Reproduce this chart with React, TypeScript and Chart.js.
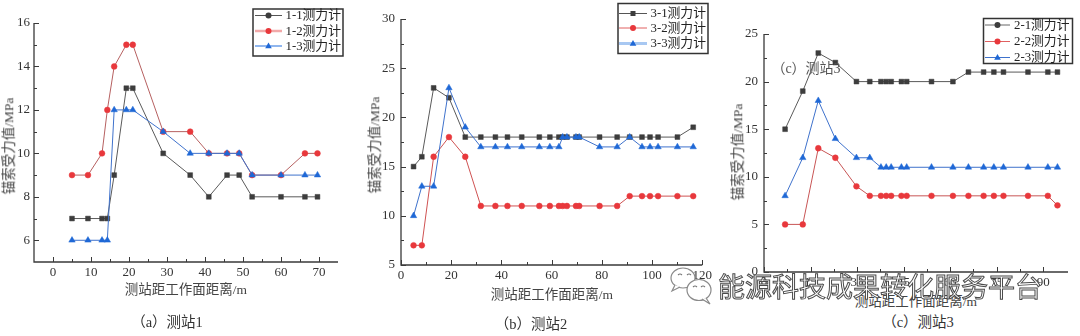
import React, { useEffect, useRef } from 'react';
import { Chart, registerables } from 'chart.js';

Chart.register(...registerables);

// ---------- Station 1 ----------
const distA = [5, 9.2, 12.9, 14.3, 16.1, 19.3, 21, 29, 36.1, 41, 45.8, 49, 52.4, 60, 66.3, 69.6];
const gauge11 = [7, 7, 7, 7, 9, 13, 13, 10, 9, 8, 9, 9, 8, 8, 8, 8];
const gauge12 = [9, 9, 10, 12, 14, 15, 15, 11, 11, 10, 10, 10, 9, 9, 10, 10];
const gauge13 = [6, 6, 6, 6, 12, 12, 12, 11, 10, 10, 10, 10, 9, 9, 9, 9];
const xMajorA = [0, 10, 20, 30, 40, 50, 60, 70];
const xMinorA = [5, 15, 25, 35, 45, 55, 65];
const yMajorA = [6, 8, 10, 12, 14, 16];
const yMinorA = [7, 9, 11, 13, 15];

// ---------- Station 2 ----------
const distB = [5, 8.3, 13, 19.1, 25.6, 31.8, 37.6, 42.4, 48.1, 55.1, 59.3, 62.9, 64.4, 66.1, 69.7, 71, 79.1, 86.1, 91.1, 96, 99.2, 102.4, 110.1, 116.4];
const gauge31 = [15, 16, 23, 22, 18, 18, 18, 18, 18, 18, 18, 18, 18, 18, 18, 18, 18, 18, 18, 18, 18, 18, 18, 19];
const gauge32 = [7, 7, 16, 18, 16, 11, 11, 11, 11, 11, 11, 11, 11, 11, 11, 11, 11, 11, 12, 12, 12, 12, 12, 12];
const gauge33 = [10, 13, 13, 23, 19, 17, 17, 17, 17, 17, 17, 17, 18, 18, 18, 18, 17, 17, 18, 17, 17, 17, 17, 17];
const xMajorB = [0, 20, 40, 60, 80, 100, 120];
const xMinorB = [10, 30, 50, 70, 90, 110];
const yMajorB = [5, 10, 15, 20, 25, 30];
const yMinorB = [7.5, 12.5, 17.5, 22.5, 27.5];

// ---------- Station 3 ----------
const distC = [6.8, 12.5, 17.5, 23, 29.8, 34.1, 37.7, 39.4, 41, 44.3, 46, 54, 60.9, 65.9, 70.8, 74.1, 77.2, 85.1, 91.5, 94.6];
const gauge21 = [15, 19, 23, 22, 20, 20, 20, 20, 20, 20, 20, 20, 20, 21, 21, 21, 21, 21, 21, 21];
const gauge22 = [5, 5, 13, 12, 9, 8, 8, 8, 8, 8, 8, 8, 8, 8, 8, 8, 8, 8, 8, 7];
const gauge23 = [8, 12, 18, 14, 12, 12, 11, 11, 11, 11, 11, 11, 11, 11, 11, 11, 11, 11, 11, 11];
const xMajorC = [0, 15, 30, 45, 60, 75, 90];
const xMinorC = [7.5, 22.5, 37.5, 52.5, 67.5, 82.5];
const yMajorC = [0, 5, 10, 15, 20, 25];
const yMinorC = [2.5, 7.5, 12.5, 17.5, 22.5];

type Marker = 'rect' | 'circle' | 'triangle';

interface SeriesStyle {
  label: string;
  values: number[];
  marker: Marker;
  radius: number;
  markerColor: string;
  lineColor: string;
  legendMarker: Marker;
  legendLine: string;
  legendLineWidth: number;
}

interface PanelSpec {
  left: number;
  width: number;
  height: number;
  yWidth: number;
  xHeight: number;
  padTop: number;
  padRight: number;
  dist: number[];
  series: SeriesStyle[];
  xMin: number;
  xMax: number;
  yMin: number;
  yMax: number;
  xMajor: number[];
  xMinor: number[];
  yMajor: number[];
  yMinor: number[];
  yLabelPad: number;
  xLabelPad: number;
  legend: { x: number; y: number; w: number; h: number; rows: number[]; lineX0: number; lineX1: number; textX: number };
}

const GRAY = '#3d3d3d';
const RED = '#e8383c';
const BLUE = '#1f68d6';
const AXIS = '#3a3a3a';
const TICK_FONT = '"Liberation Serif", "Times New Roman", serif';
const CJK_FONT = '"Liberation Serif", "Noto Sans CJK SC", serif';

const panelA: PanelSpec = {
  left: 0, width: 350, height: 290, yWidth: 34, xHeight: 28, padTop: 23, padRight: 12,
  dist: distA,
  series: [
    { label: '1-1测力计', values: gauge11, marker: 'rect', radius: 3.4, markerColor: GRAY, lineColor: '#5a5a5a', legendMarker: 'circle', legendLine: '#555', legendLineWidth: 1 },
    { label: '1-2测力计', values: gauge12, marker: 'circle', radius: 2.9, markerColor: RED, lineColor: '#b66060', legendMarker: 'circle', legendLine: '#f2a9a9', legendLineWidth: 2.5 },
    { label: '1-3测力计', values: gauge13, marker: 'triangle', radius: 3.7, markerColor: BLUE, lineColor: '#3f72cc', legendMarker: 'triangle', legendLine: '#90b6ee', legendLineWidth: 2 },
  ],
  xMin: -5, xMax: 75, yMin: 5, yMax: 16,
  xMajor: xMajorA, xMinor: xMinorA, yMajor: yMajorA, yMinor: yMinorA,
  yLabelPad: 4, xLabelPad: 3,
  legend: { x: 253, y: 9, w: 90, h: 47, rows: [15.5, 31, 46], lineX0: 255, lineX1: 282, textX: 285.5 },
};

const panelB: PanelSpec = {
  left: 360, width: 355, height: 290, yWidth: 41, xHeight: 25, padTop: 19, padRight: 12,
  dist: distB,
  series: [
    { label: '3-1测力计', values: gauge31, marker: 'rect', radius: 3.4, markerColor: GRAY, lineColor: '#5a5a5a', legendMarker: 'rect', legendLine: '#555', legendLineWidth: 1 },
    { label: '3-2测力计', values: gauge32, marker: 'circle', radius: 2.9, markerColor: RED, lineColor: '#cf5252', legendMarker: 'circle', legendLine: '#e06060', legendLineWidth: 1 },
    { label: '3-3测力计', values: gauge33, marker: 'triangle', radius: 3.7, markerColor: BLUE, lineColor: '#3f72cc', legendMarker: 'triangle', legendLine: '#a8c8f2', legendLineWidth: 3 },
  ],
  xMin: 0, xMax: 120, yMin: 5, yMax: 30,
  xMajor: xMajorB, xMinor: xMinorB, yMajor: yMajorB, yMinor: yMinorB,
  yLabelPad: 6, xLabelPad: 3,
  legend: { x: 258, y: 3.5, w: 90, h: 50, rows: [13.5, 28, 43.5], lineX0: 259, lineX1: 287, textX: 290.5 },
};

const panelC: PanelSpec = {
  left: 720, width: 360, height: 290, yWidth: 44, xHeight: 18, padTop: 34, padRight: 12,
  dist: distC,
  series: [
    { label: '2-1测力计', values: gauge21, marker: 'rect', radius: 3.4, markerColor: GRAY, lineColor: '#5a5a5a', legendMarker: 'circle', legendLine: '#666', legendLineWidth: 1 },
    { label: '2-2测力计', values: gauge22, marker: 'circle', radius: 2.9, markerColor: RED, lineColor: '#c85555', legendMarker: 'circle', legendLine: '#e06060', legendLineWidth: 1 },
    { label: '2-3测力计', values: gauge23, marker: 'triangle', radius: 3.7, markerColor: BLUE, lineColor: '#3f72cc', legendMarker: 'triangle', legendLine: '#3f72cc', legendLineWidth: 1 },
  ],
  xMin: 0, xMax: 98, yMin: 0, yMax: 25,
  xMajor: xMajorC, xMinor: xMinorC, yMajor: yMajorC, yMinor: yMinorC,
  yLabelPad: 6, xLabelPad: 3,
  legend: { x: 263.5, y: 18.5, w: 89, h: 45, rows: [25, 41.5, 57.5], lineX0: 265, lineX1: 290, textX: 294 },
};

function drawMarker(ctx: CanvasRenderingContext2D, m: Marker, x: number, y: number, color: string) {
  ctx.fillStyle = color;
  ctx.beginPath();
  if (m === 'rect') {
    ctx.rect(x - 2.5, y - 2.5, 5, 5);
  } else if (m === 'circle') {
    ctx.arc(x, y, 3, 0, Math.PI * 2);
  } else {
    ctx.moveTo(x, y - 3.6);
    ctx.lineTo(x + 3.3, y + 2.2);
    ctx.lineTo(x - 3.3, y + 2.2);
    ctx.closePath();
  }
  ctx.fill();
}

function framePlugin(p: PanelSpec) {
  return {
    id: 'originFrame',
    afterDraw(chart: any) {
      const { ctx, chartArea: a } = chart;
      const xs = chart.scales.x;
      const ys = chart.scales.y;
      ctx.save();
      // axis lines (left and bottom only)
      ctx.strokeStyle = AXIS;
      ctx.lineWidth = 1.3;
      ctx.beginPath();
      ctx.moveTo(a.left, a.top);
      ctx.lineTo(a.left, a.bottom);
      ctx.lineTo(a.right, a.bottom);
      ctx.stroke();
      // inward tick marks
      ctx.lineWidth = 1;
      ctx.beginPath();
      const xt = (v: number, len: number) => {
        const px = Math.round(xs.getPixelForValue(v)) + 0.5;
        ctx.moveTo(px, a.bottom);
        ctx.lineTo(px, a.bottom - len);
      };
      const yt = (v: number, len: number) => {
        const py = Math.round(ys.getPixelForValue(v)) + 0.5;
        ctx.moveTo(a.left, py);
        ctx.lineTo(a.left + len, py);
      };
      p.xMajor.forEach((v) => xt(v, 5));
      p.xMinor.forEach((v) => xt(v, 3));
      p.yMajor.forEach((v) => yt(v, 5));
      p.yMinor.forEach((v) => yt(v, 3));
      ctx.stroke();
      // legend box
      const L = p.legend;
      ctx.fillStyle = '#fff';
      ctx.fillRect(L.x, L.y, L.w, L.h);
      ctx.lineWidth = 1.5;
      ctx.strokeStyle = '#333';
      ctx.strokeRect(L.x, L.y, L.w, L.h);
      p.series.forEach((s, i) => {
        const ry = L.rows[i];
        ctx.strokeStyle = s.legendLine;
        ctx.lineWidth = s.legendLineWidth;
        ctx.beginPath();
        ctx.moveTo(L.lineX0, ry);
        ctx.lineTo(L.lineX1, ry);
        ctx.stroke();
        drawMarker(ctx, s.legendMarker, (L.lineX0 + L.lineX1) / 2, ry, s.markerColor);
        ctx.fillStyle = '#222';
        ctx.font = '12.8px ' + CJK_FONT;
        ctx.textBaseline = 'middle';
        ctx.textAlign = 'left';
        ctx.fillText(s.label, L.textX, ry + 0.5);
      });
      ctx.restore();
    },
  };
}

function Panel({ p }: { p: PanelSpec }) {
  const ref = useRef<HTMLCanvasElement>(null);
  useEffect(() => {
    const n = p.series.length;
    const chart = new Chart(ref.current as HTMLCanvasElement, {
      type: 'line',
      data: {
        datasets: p.series.map((s, i) => ({
          label: s.label,
          data: p.dist.map((d, k) => ({ x: d, y: s.values[k] })),
          borderColor: s.lineColor,
          borderWidth: 1,
          pointStyle: s.marker,
          pointRadius: s.radius,
          pointBackgroundColor: s.markerColor,
          pointBorderColor: s.markerColor,
          pointBorderWidth: 0.5,
          tension: 0,
          order: n - 1 - i,
          clip: false,
        })),
      },
      options: {
        responsive: false,
        animation: false,
        layout: { padding: { left: 0, top: p.padTop, right: p.padRight, bottom: 0 } },
        plugins: { legend: { display: false }, tooltip: { enabled: false } },
        scales: {
          x: {
            type: 'linear',
            min: p.xMin,
            max: p.xMax,
            grid: { display: false, drawTicks: false, tickLength: 0 },
            border: { display: false },
            afterBuildTicks: (sc: any) => {
              sc.ticks = p.xMajor.map((v) => ({ value: v }));
            },
            afterFit: (sc: any) => {
              sc.height = p.xHeight;
            },
            ticks: {
              autoSkip: false,
              maxRotation: 0,
              padding: p.xLabelPad,
              color: '#333',
              font: { family: TICK_FONT, size: 13 },
              callback: (v: any) => String(v),
            },
          },
          y: {
            type: 'linear',
            min: p.yMin,
            max: p.yMax,
            grid: { display: false, drawTicks: false, tickLength: 0 },
            border: { display: false },
            afterBuildTicks: (sc: any) => {
              sc.ticks = p.yMajor.map((v) => ({ value: v }));
            },
            afterFit: (sc: any) => {
              sc.width = p.yWidth;
            },
            ticks: {
              autoSkip: false,
              padding: p.yLabelPad,
              color: '#333',
              font: { family: TICK_FONT, size: 13 },
              callback: (v: any) => String(v),
            },
          },
        },
      } as any,
      plugins: [framePlugin(p)],
    });
    return () => chart.destroy();
  }, [p]);
  return (
    <canvas
      ref={ref}
      width={p.width}
      height={p.height}
      style={{ position: 'absolute', left: p.left, top: 0, width: p.width, height: p.height }}
    />
  );
}

function Label({ text, x, y, size, rotate, color }: { text: string; x: number; y: number; size: number; rotate?: boolean; color?: string }) {
  return (
    <div
      style={{
        position: 'absolute',
        left: x,
        top: y,
        transform: `translate(-50%, -50%)${rotate ? ' rotate(-90deg)' : ''}`,
        whiteSpace: 'nowrap',
        fontFamily: CJK_FONT,
        fontSize: size,
        lineHeight: 1,
        color: color || '#444',
      }}
    >
      {text}
    </div>
  );
}

function WeChatBadge() {
  return (
    <svg width={50} height={42} style={{ position: 'absolute', left: 668, top: 265 }} viewBox="0 0 50 42">
      <ellipse cx={15} cy={13} rx={12} ry={10} fill="#fff" stroke="#8a8a8a" strokeWidth={1.2} />
      <path d="M7 20 L4 26 L12 22" fill="#fff" stroke="#8a8a8a" strokeWidth={1.2} />
      <path d="M10 10 q2 -2 4 0" fill="none" stroke="#777" strokeWidth={1.1} />
      <path d="M19 10 q2 -2 4 0" fill="none" stroke="#777" strokeWidth={1.1} />
      <ellipse cx={31} cy={25} rx={12} ry={10.5} fill="#fff" stroke="#8a8a8a" strokeWidth={1.2} />
      <path d="M38 33 L42 39 L34 34" fill="#fff" stroke="#8a8a8a" strokeWidth={1.2} />
      <path d="M25 22 q2 -2 4 0" fill="none" stroke="#777" strokeWidth={1.1} />
      <path d="M33 22 q2 -2 4 0" fill="none" stroke="#777" strokeWidth={1.1} />
    </svg>
  );
}

export default function App() {
  return (
    <div style={{ position: 'absolute', left: 0, top: 0, width: 1080, height: 336, overflow: 'hidden', background: '#fff' }}>
      <Panel p={panelA} />
      <Panel p={panelB} />
      <Panel p={panelC} />

      <Label text="锚索受力值/MPa" x={9} y={146} size={13.5} rotate />
      <Label text="测站距工作面距离/m" x={186} y={290} size={13.5} />
      <Label text="（a）测站1" x={167} y={322} size={14.5} color="#333" />

      <Label text="锚索受力值/MPa" x={375} y={145} size={13.5} rotate />
      <Label text="测站距工作面距离/m" x={552} y={295} size={13.5} />
      <Label text="（b）测站2" x={531} y={324} size={14.5} color="#333" />

      <Label text="锚索受力值/MPa" x={737.5} y={152} size={13.5} rotate />
      <Label text="测站距工作面距离/m" x={916} y={302} size={13.5} />
      <Label text="（c）测站3" x={918} y={322} size={14.5} color="#333" />
      <Label text="（c）测站3" x={806} y={69} size={14} color="#555" />

      <WeChatBadge />
      <div
        style={{
          position: 'absolute',
          left: 718,
          top: 272,
          fontFamily: '"Noto Sans CJK SC", sans-serif',
          fontSize: 27,
          lineHeight: '27px',
          whiteSpace: 'nowrap',
          color: '#fff',
          WebkitTextStroke: '1px #4a4a4a',
        }}
      >
        能源科技成果转化服务平台
      </div>
    </div>
  );
}
